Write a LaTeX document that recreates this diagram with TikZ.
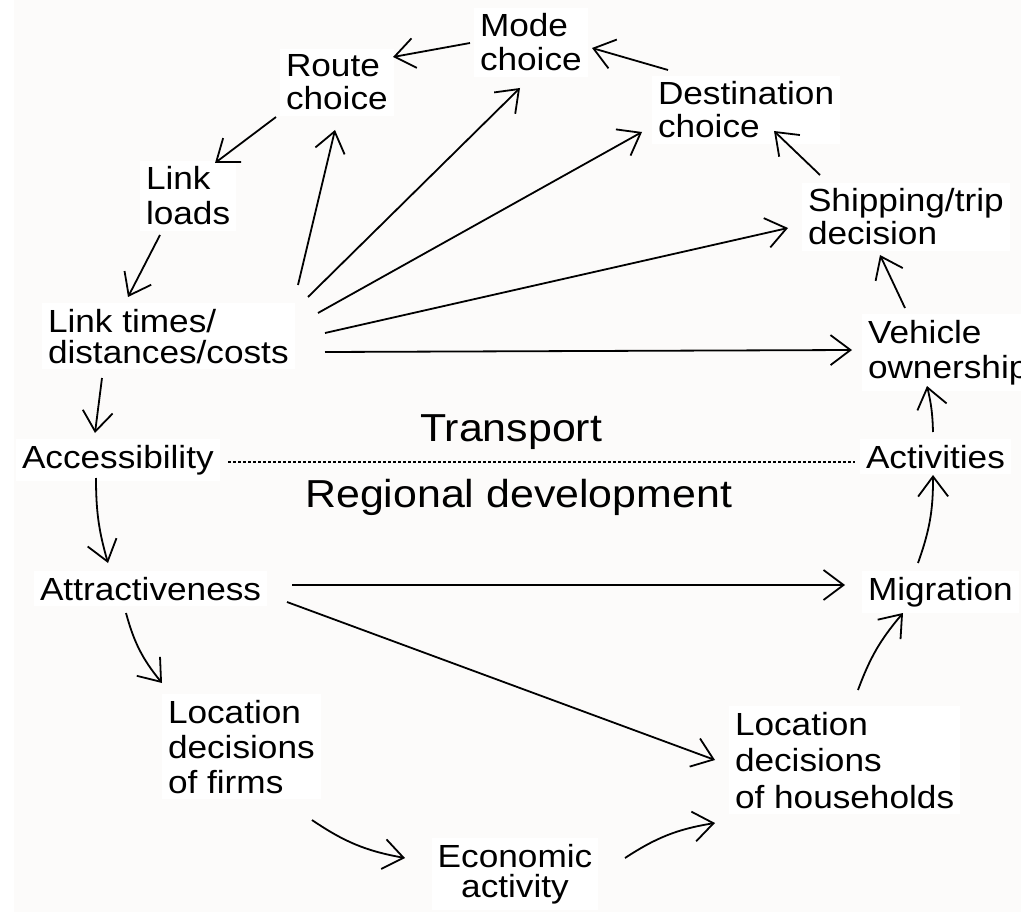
\documentclass[tikz,border=0pt]{standalone}
\usepackage{fontspec}
\setmainfont{Liberation Sans}[FakeStretch=1.1]
\usetikzlibrary{arrows.meta}
\definecolor{bgc}{RGB}{252,251,250}
\begin{document}
\begin{tikzpicture}[x=1pt,y=-1pt,
  lbl/.style={font=\fontsize{32}{34}\selectfont, fill=white, inner xsep=6pt, inner ysep=6pt, outer xsep=-6pt, outer ysep=0pt, align=left, anchor=base west},
  lblc/.style={lbl, align=center, anchor=base},
  big/.style={font=\fontsize{39}{41}\selectfont, inner sep=0pt, anchor=base west},
  arr/.style={line width=1.8pt, -{Straight Barb[length=20pt,width=30pt,line width=1.8pt]}},
  sepline/.style={line width=1.2pt, dash pattern=on 3pt off 2pt}]
\fill[white] (0,0) rectangle (1021,912);
\fill[bgc] (14,0) rectangle (1021,912);
\useasboundingbox (0,0) rectangle (1021,912);

\node[lbl] (mode) at (480,71) {Mode\\choice};
\node[lbl, font=\fontsize{32}{33}\selectfont] (route) at (286,110) {Route\\choice};
\node[lbl, font=\fontsize{32}{33}\selectfont] (dest) at (658,138) {Destination\\choice};
\node[lbl, font=\fontsize{32}{33}\selectfont] (ship) at (808,245) {Shipping/trip\\decision};
\node[lbl, font=\fontsize{32}{35}\selectfont] (veh) at (868,378) {Vehicle\\ownership};
\node[lbl, font=\fontsize{32}{35}\selectfont] (loads) at (146,225) {Link\\loads};
\node[lbl, font=\fontsize{32}{31}\selectfont] (times) at (48,363) {Link times/\\distances/costs};
\node[lbl] (access) at (22,468) {Accessibility};
\node[lbl] (attract) at (40,600) {Attractiveness};
\node[lbl, font=\fontsize{32}{35}\selectfont] (firms) at (168,793) {Location\\decisions\\of firms};
\node[lblc, font=\fontsize{32}{30}\selectfont] (econ) at (515,897) {Economic\\activity};
\node[lbl, font=\fontsize{32}{36.5}\selectfont] (house) at (735,808) {Location\\decisions\\of households};
\node[lbl] (migr) at (868,600) {Migration};
\node[lbl] (activ) at (866,468) {Activities};
\node[big] (transport) at (420,441) {Transport};
\node[big] (regional) at (305,507) {Regional development};

\draw[sepline] ([shift={(206,-6)}]access.base west) -- ([shift={(-11,-6)}]activ.base west);

\draw[arr] ([shift={(-10,-28)}]mode.base west) -- ([shift={(107,-53)}]route.base west);
\draw[arr] ([shift={(10,-68)}]dest.base west) -- ([shift={(112,-23)}]mode.base west);
\draw[arr] ([shift={(12,-70)}]ship.base west) -- ([shift={(116,-7)}]dest.base west);
\draw[arr] ([shift={(37,-70)}]veh.base west) -- ([shift={(72,10)}]ship.base west);
\draw[arr] ([shift={(67,-36)}]activ.base west) to[bend right=6] ([shift={(59,8)}]veh.base west);
\draw[arr] ([shift={(50,-37)}]migr.base west) to[bend right=10] ([shift={(67,7)}]activ.base west);
\draw[arr] ([shift={(123,-118)}]house.base west) to[bend left=10] ([shift={(35,13)}]migr.base west);
\draw[arr] ([shift={(110,-39)}]econ.base) to[bend left=12] ([shift={(-20,15)}]house.base west);
\draw[arr] ([shift={(144,27)}]firms.base west) to[bend right=12] ([shift={(-110,-39)}]econ.base);
\draw[arr] ([shift={(86,13)}]attract.base west) to[bend right=12] ([shift={(-6,-110)}]firms.base west);
\draw[arr] ([shift={(74,10)}]access.base west) to[bend right=8] ([shift={(68,-37)}]attract.base west);
\draw[arr] ([shift={(54,15)}]times.base west) -- ([shift={(73,-35)}]access.base west);
\draw[arr] ([shift={(14,10)}]loads.base west) -- ([shift={(80,-66)}]times.base west);
\draw[arr] ([shift={(-10,7)}]route.base west) -- ([shift={(69,-62)}]loads.base west);
\draw[arr] ([shift={(250,-78)}]times.base west) -- ([shift={(49,20)}]route.base west);
\draw[arr] ([shift={(260,-66)}]times.base west) -- ([shift={(40,17)}]mode.base west);
\draw[arr] ([shift={(270,-50)}]times.base west) -- ([shift={(-16,-6)}]dest.base west);
\draw[arr] ([shift={(277,-30)}]times.base west) -- ([shift={(-20,-17)}]ship.base west);
\draw[arr] ([shift={(277,-11)}]times.base west) -- ([shift={(-16,-28)}]veh.base west);
\draw[arr] ([shift={(252,-15)}]attract.base west) -- ([shift={(-23,-15)}]migr.base west);
\draw[arr] ([shift={(247,2)}]attract.base west) -- ([shift={(-20,-48)}]house.base west);
\end{tikzpicture}
\end{document}
